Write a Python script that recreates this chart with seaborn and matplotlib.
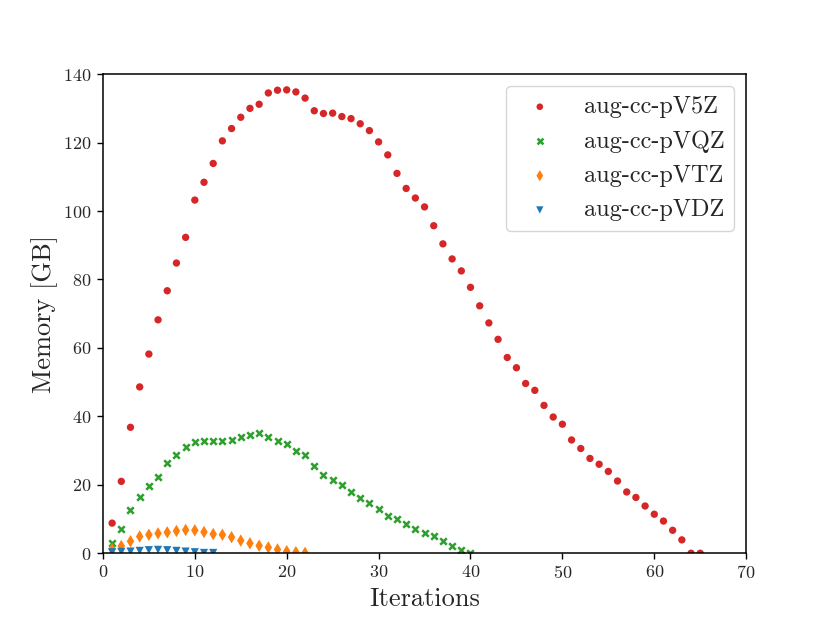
import seaborn as sns
import matplotlib.pyplot as plt
import pandas as pd

# memory per iteration for each basis set
mem_v5z = [8.8, 21.0, 36.8, 48.6, 58.2, 68.2, 76.7, 84.8, 92.3, 103.2,
           108.4, 113.9, 120.5, 124.1, 127.4, 130.0, 131.2, 134.5, 135.3, 135.4,
           134.8, 133.0, 129.3, 128.5, 128.6, 127.6, 127.0, 125.5, 123.5, 120.2,
           116.4, 111.0, 106.6, 103.8, 101.2, 95.7, 90.4, 86.0, 82.5, 77.7,
           72.3, 67.3, 62.5, 57.2, 54.2, 49.6, 47.6, 43.2, 39.8, 37.7,
           33.1, 30.6, 27.7, 26.0, 23.9, 21.1, 17.9, 16.3, 13.8, 11.4,
           9.4, 6.7, 3.9, 0.0, 0.0]
mem_vqz = [3.0, 7.0, 12.6, 16.4, 19.5, 22.4, 26.4, 28.7, 30.9, 32.5,
           32.9, 32.9, 32.9, 33.2, 33.9, 34.6, 35.0, 34.1, 32.9, 32.0,
           30.0, 28.6, 25.6, 23.0, 21.3, 19.8, 17.8, 16.2, 14.8, 12.8,
           11.0, 9.9, 8.4, 7.1, 6.0, 4.9, 3.6, 2.1, 0.8, 0.0]
mem_vtz = [1.2, 2.1, 3.5, 4.9, 5.4, 5.8, 6.1, 6.5, 6.8, 6.7,
           6.2, 5.6, 5.4, 4.7, 3.7, 2.9, 2.2, 1.7, 1.1, 0.6,
           0.3, 0.1]
mem_vdz = [0.3, 0.4, 0.5, 0.7, 0.9, 1.0, 0.9, 0.7, 0.5, 0.3, 0.1, 0.1]

series = [
    ("aug-cc-pV5Z", mem_v5z, "#d62728", "o", 28),
    ("aug-cc-pVQZ", mem_vqz, "#2ca02c", "x", 22),
    ("aug-cc-pVTZ", mem_vtz, "#ff7f0e", "d", 40),
    ("aug-cc-pVDZ", mem_vdz, "#1f77b4", "v", 34),
]

sns.set_theme(style="ticks")
plt.rcParams["font.family"] = "serif"
plt.rcParams["font.serif"] = ["cmr10"]
plt.rcParams["mathtext.fontset"] = "cm"
plt.rcParams["axes.formatter.use_mathtext"] = True
plt.rcParams["axes.unicode_minus"] = False

fig, ax = plt.subplots(figsize=(8.3, 6.23), dpi=100)
fig.subplots_adjust(left=0.124, right=0.899, bottom=0.112, top=0.881)

for name, vals, color, marker, size in series:
    df = pd.DataFrame({"Iteration": range(1, len(vals) + 1), "Memory": vals})
    kw = dict(linewidth=1.8) if marker == "x" else dict(edgecolor="none")
    sns.scatterplot(data=df, x="Iteration", y="Memory", color=color,
                    marker=marker, s=size, label=name, ax=ax, **kw)

ax.set_xlim(0, 70)
ax.set_ylim(0, 140)
ax.set_xticks(range(0, 71, 10))
ax.set_yticks(range(0, 141, 20))
ax.set_xlabel("Iterations", fontsize=19)
ax.set_ylabel("Memory [GB]", fontsize=19)
ax.tick_params(labelsize=13, length=4.5, width=1, color="black")
for sp in ax.spines.values():
    sp.set_color("black")
    sp.set_linewidth(1.1)

ax.legend(loc="upper right", fontsize=17.5, frameon=True, fancybox=True,
          framealpha=0.8, edgecolor="0.8", markerscale=0.9)

plt.savefig("out.png", dpi=100)
